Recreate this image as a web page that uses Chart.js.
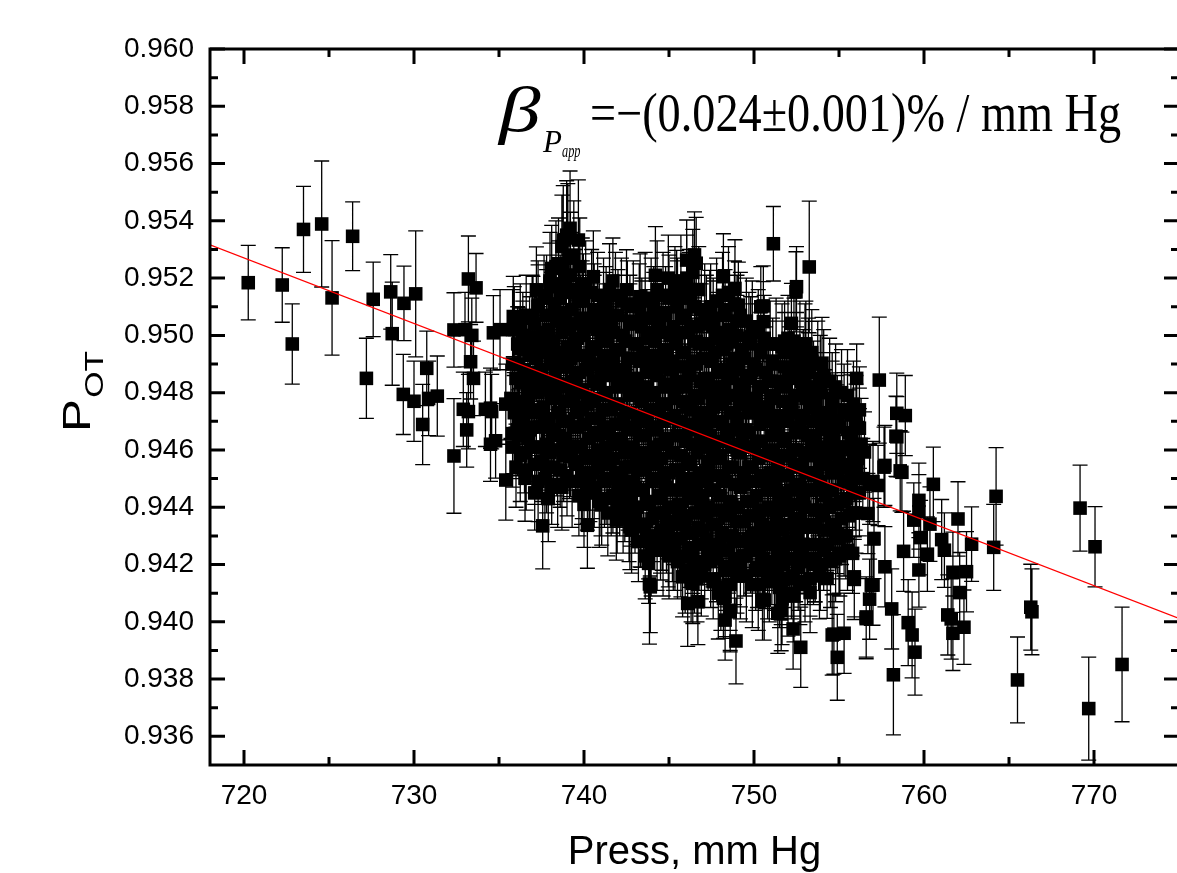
<!DOCTYPE html>
<html>
<head>
<meta charset="utf-8">
<title>P_OT vs pressure</title>
<script src="https://cdn.jsdelivr.net/npm/chart.js@4.4.0/dist/chart.umd.min.js"></script>
<style>
  html, body { margin: 0; padding: 0; background: #fff; overflow: hidden; }
  canvas { display: block; }
</style>
</head>
<body>
<canvas id="myChart" width="1185" height="873"></canvas>

<script>
// axis ticks
var xTicks = [720, 730, 740, 750, 760, 770];
var xMinor = [725, 735, 745, 755, 765];
var yTicks = [0.936, 0.938, 0.940, 0.942, 0.944, 0.946, 0.948, 0.950, 0.952, 0.954, 0.956, 0.958, 0.960];
var yMinor = [0.937, 0.939, 0.941, 0.943, 0.945, 0.947, 0.949, 0.951, 0.953, 0.955, 0.957, 0.959];

// linear fit (red line)
var fitPress = [718, 775];
var fitPOT = [0.95316, 0.94012];

// isolated points, left and right of the cloud
var sparsePress = [
  720.25, 722.25, 722.84, 723.50, 724.57, 725.18, 726.39, 727.60, 727.20, 728.63,
  728.72, 729.41, 730.10, 729.37, 730.00, 730.51, 730.75, 730.86, 731.37, 732.35,
  732.35, 733.20, 733.65, 733.00, 733.40, 733.33, 733.50, 732.90, 733.20, 733.10,
  734.20, 734.57, 734.50, 734.80, 734.67,
  764.24, 764.10, 769.18, 770.06, 766.28, 766.35, 765.50, 769.69, 771.65, 762.00,
  762.80, 762.50, 761.70, 762.10, 762.35, 761.70, 761.40, 761.60, 761.04, 761.20,
  760.55, 760.35, 760.20, 759.70, 759.70, 759.40, 759.80, 759.70, 758.80, 759.47,
  759.30, 759.07, 758.10, 758.20, 758.35, 758.60, 757.65, 757.30, 757.70, 756.90,
  756.80, 756.60, 757.06, 755.90, 755.80, 755.30, 754.60, 754.90, 754.30, 753.30,
  752.75, 752.30, 751.60, 751.60, 750.60, 755.45, 756.04, 756.20, 755.60, 756.70,
  754.90, 753.90, 751.70, 752.70, 753.60, 754.90, 751.14, 753.25, 752.50, 752.47,
  750.55, 750.55, 752.20, 751.80, 753.00, 752.20, 754.00, 753.40, 752.90, 756.04,
  757.37, 753.60, 752.90, 753.70, 754.50, 755.70, 756.20, 754.30, 754.90, 758.40,
  758.90, 758.40, 755.80, 756.50, 753.60, 757.70, 758.70, 756.00, 757.00
];
var sparsePOT = [
  0.95184, 0.95176, 0.94970, 0.95370, 0.95389, 0.95131, 0.95346, 0.95126, 0.94850, 0.95152,
  0.95006, 0.95112, 0.95145, 0.94794, 0.94770, 0.94689, 0.94885, 0.94780, 0.94788, 0.94579,
  0.95019, 0.95197, 0.95166, 0.95020, 0.95000, 0.94908, 0.94850, 0.94742, 0.94734, 0.94670,
  0.94742, 0.94734, 0.94620, 0.94632, 0.95009,
  0.94438, 0.94260, 0.94397, 0.94262, 0.94051, 0.94035, 0.93797, 0.93697, 0.93851, 0.94359,
  0.94271, 0.94175, 0.94173, 0.94102, 0.93981, 0.93960, 0.94024, 0.94010, 0.94287, 0.94250,
  0.94480, 0.94341, 0.94236, 0.94424, 0.94384, 0.94355, 0.94294, 0.94181, 0.94246, 0.93894,
  0.93954, 0.93997, 0.94045, 0.93815, 0.94648, 0.94527, 0.94540, 0.94476, 0.94192, 0.94128,
  0.94079, 0.94017, 0.94291, 0.94157, 0.94239, 0.93960, 0.93954, 0.93876, 0.94152, 0.94102,
  0.93911, 0.93975, 0.94039, 0.94146, 0.94076, 0.94430, 0.94537, 0.94604, 0.94609, 0.94378,
  0.94537, 0.94549, 0.94267, 0.94238, 0.94209, 0.94308, 0.95320, 0.95239, 0.95170, 0.95152,
  0.95103, 0.95048, 0.95042, 0.94980, 0.94970, 0.94940, 0.94903, 0.94909, 0.94880, 0.94850,
  0.94844, 0.94800, 0.94800, 0.94730, 0.94729, 0.94722, 0.94676, 0.94672, 0.94687, 0.94728,
  0.94720, 0.94646, 0.94604, 0.94593, 0.94604, 0.94546, 0.94522, 0.94534, 0.94490
];
var sparseErr = [
  0.0013, 0.0013, 0.0014, 0.0015, 0.0022, 0.0020, 0.0012, 0.0013, 0.0014, 0.0013,
  0.0018, 0.0013, 0.0022, 0.0014, 0.0014, 0.0014, 0.0013, 0.0013, 0.0014, 0.0020,
  0.0013, 0.0015, 0.0012, 0.0013, 0.0013, 0.0013, 0.0013, 0.0013, 0.0013, 0.0013,
  0.0013, 0.0013, 0.0013, 0.0013, 0.0013,
  0.0017, 0.0015, 0.0015, 0.0014, 0.0015, 0.0015, 0.0015, 0.0018, 0.0020, 0.0013,
  0.0013, 0.0014, 0.0014, 0.0014, 0.0013, 0.0013, 0.0014, 0.0014, 0.0014, 0.0013,
  0.0013, 0.0013, 0.0013, 0.0013, 0.0013, 0.0013, 0.0013, 0.0013, 0.0014, 0.0015,
  0.0015, 0.0015, 0.0014, 0.0021, 0.0014, 0.0014, 0.0014, 0.0014, 0.0014, 0.0014,
  0.0014, 0.0014, 0.0014, 0.0014, 0.0014, 0.0014, 0.0014, 0.0015, 0.0014, 0.0014,
  0.0014, 0.0014, 0.0014, 0.0014, 0.0014, 0.0014, 0.0014, 0.0014, 0.0014, 0.0014,
  0.0014, 0.0014, 0.0014, 0.0014, 0.0014, 0.0014, 0.0013, 0.0023, 0.0014, 0.0014,
  0.0014, 0.0014, 0.0014, 0.0014, 0.0014, 0.0014, 0.0016, 0.0014, 0.0014, 0.0012,
  0.0022, 0.0014, 0.0014, 0.0014, 0.0014, 0.0014, 0.0014, 0.0014, 0.0014, 0.0014,
  0.0014, 0.0014, 0.0014, 0.0014, 0.0014, 0.0014, 0.0014, 0.0014, 0.0014
];

// points on the upper and lower rim of the cloud
var edgePress = [
  737.57, 737.80, 740.20, 740.20, 741.04, 741.90, 742.70, 743.80, 743.85, 743.90,
  745.80, 746.40, 746.10, 746.70, 745.70, 744.96, 748.20, 748.30, 748.60, 748.94,
  748.40, 749.20, 750.50, 750.55, 751.40, 751.40, 746.40, 747.60, 749.90, 735.80,
  735.40, 736.53, 736.20, 736.80, 735.40, 734.50,
  735.06, 735.84, 737.20, 737.30, 738.10, 738.00, 738.98, 739.18, 739.67, 738.78,
  738.90, 740.55, 741.70, 744.20, 744.96, 746.04, 746.50, 746.60, 748.20, 748.88,
  749.08, 750.40, 749.80, 747.40, 745.45, 743.30, 742.50, 739.96, 735.80, 736.80,
  737.00, 737.40, 737.80, 739.40, 747.20,
  736.20, 736.80, 736.40, 736.10, 739.20, 740.35, 739.60, 737.40, 738.40, 739.40,
  741.30, 740.90, 741.90, 742.10, 742.70, 744.85, 745.60, 748.30, 748.60, 748.50,
  750.65, 751.60, 754.70, 755.90, 756.60, 757.00, 752.70, 755.00, 747.20, 745.25,
  744.50, 743.30, 756.80, 754.70
];
var edgePOT = [
  0.94335, 0.94600, 0.94337, 0.94484, 0.94408, 0.94355, 0.94332, 0.94204, 0.94132, 0.94122,
  0.94157, 0.94134, 0.94064, 0.94070, 0.94227, 0.94262, 0.94082, 0.94006, 0.94035, 0.93933,
  0.94192, 0.94192, 0.94076, 0.94192, 0.94274, 0.94030, 0.94239, 0.94262, 0.94262, 0.94657,
  0.94495, 0.94501, 0.94690, 0.94670, 0.94760, 0.94746,
  0.95020, 0.95066, 0.95159, 0.95106, 0.95234, 0.95182, 0.95350, 0.95374, 0.95333, 0.95333,
  0.95205, 0.95205, 0.95190, 0.95210, 0.95200, 0.95263, 0.95281, 0.95252, 0.95205, 0.95164,
  0.95106, 0.95100, 0.94995, 0.95077, 0.95147, 0.95135, 0.95159, 0.95135, 0.95020, 0.94995,
  0.95066, 0.94960, 0.95010, 0.94950, 0.95070,
  0.94955, 0.94932, 0.94751, 0.94670, 0.94577, 0.94490, 0.94612, 0.94832, 0.94832, 0.94774,
  0.94658, 0.94600, 0.94519, 0.94450, 0.94414, 0.94310, 0.94368, 0.94088, 0.94040, 0.94192,
  0.94186, 0.94152, 0.93957, 0.94148, 0.94011, 0.94128, 0.94240, 0.94240, 0.94286, 0.94250,
  0.94286, 0.94332, 0.94480, 0.94609
];
var edgeErr = [
  0.0015, 0.0014, 0.0015, 0.0014, 0.0014, 0.0014, 0.0015, 0.0014, 0.0021, 0.0016,
  0.0014, 0.0014, 0.0015, 0.0015, 0.0014, 0.0014, 0.0014, 0.0014, 0.0014, 0.0015,
  0.0014, 0.0014, 0.0014, 0.0014, 0.0014, 0.0014, 0.0014, 0.0014, 0.0014, 0.0014,
  0.0014, 0.0015, 0.0014, 0.0014, 0.0014, 0.0014,
  0.0014, 0.0014, 0.0015, 0.0014, 0.0015, 0.0014, 0.0019, 0.0020, 0.0021, 0.0019,
  0.0015, 0.0016, 0.0015, 0.0017, 0.0015, 0.0014, 0.0015, 0.0016, 0.0015, 0.0017,
  0.0015, 0.0014, 0.0014, 0.0015, 0.0015, 0.0015, 0.0014, 0.0015, 0.0014, 0.0014,
  0.0014, 0.0014, 0.0014, 0.0014, 0.0014,
  0.0014, 0.0014, 0.0014, 0.0014, 0.0014, 0.0014, 0.0014, 0.0014, 0.0014, 0.0014,
  0.0014, 0.0014, 0.0014, 0.0015, 0.0015, 0.0014, 0.0014, 0.0014, 0.0014, 0.0014,
  0.0014, 0.0014, 0.0014, 0.0014, 0.0014, 0.0014, 0.0014, 0.0014, 0.0014, 0.0014,
  0.0014, 0.0014, 0.0014, 0.0014
];

// dense core of the cloud, one line per narrow pressure strip
var corePress = [
  735.9, 736.1, 735.8, 736.0, 735.7, 735.9, 736.1, 735.8, 736.0,
  736.6, 736.4, 736.7, 736.5, 736.8, 736.6, 736.4, 736.7, 736.5, 736.6,
  737.3, 737.1, 737.4, 737.2, 737.5, 737.3, 737.1, 737.4, 737.2, 737.5, 737.3, 737.1,
  738.0, 737.8, 738.1, 737.9, 738.2, 738.0, 737.8, 738.1, 737.9, 738.2, 738.0, 737.8, 738.1, 737.9,
  738.7, 738.5, 738.8, 738.6, 738.9, 738.7, 738.5, 738.8, 738.6, 738.9, 738.7, 738.5, 738.8, 738.6, 738.7,
  739.4, 739.2, 739.5, 739.3, 739.6, 739.4, 739.2, 739.5, 739.3, 739.6, 739.4, 739.2, 739.5, 739.3,
  740.1, 739.9, 740.2, 740.0, 740.3, 740.1, 739.9, 740.2, 740.0, 740.3, 740.1, 739.9, 740.2, 740.0,
  740.8, 740.6, 740.9, 740.7, 741.0, 740.8, 740.6, 740.9, 740.7, 741.0, 740.8, 740.6, 740.9,
  741.5, 741.3, 741.6, 741.4, 741.7, 741.5, 741.3, 741.6, 741.4, 741.7, 741.5, 741.3, 741.6, 741.4,
  742.2, 742.0, 742.3, 742.1, 742.4, 742.2, 742.0, 742.3, 742.1, 742.4, 742.2, 742.0, 742.3,
  742.9, 742.7, 743.0, 742.8, 743.1, 742.9, 742.7, 743.0, 742.8, 743.1, 742.9, 742.7, 743.0, 742.8,
  743.6, 743.4, 743.7, 743.5, 743.8, 743.6, 743.4, 743.7, 743.5, 743.8, 743.6, 743.4, 743.7, 743.5, 743.8, 743.6,
  744.3, 744.1, 744.4, 744.2, 744.5, 744.3, 744.1, 744.4, 744.2, 744.5, 744.3, 744.1, 744.4, 744.2, 744.5, 744.3,
  745.0, 744.8, 745.1, 744.9, 745.2, 745.0, 744.8, 745.1, 744.9, 745.2, 745.0, 744.8, 745.1, 744.9, 745.2, 745.0,
  745.7, 745.5, 745.8, 745.6, 745.9, 745.7, 745.5, 745.8, 745.6, 745.9, 745.7, 745.5, 745.8, 745.6, 745.9, 745.7, 745.5,
  746.4, 746.2, 746.5, 746.3, 746.6, 746.4, 746.2, 746.5, 746.3, 746.6, 746.4, 746.2, 746.5, 746.3, 746.6, 746.4, 746.2, 746.5, 746.3,
  747.1, 746.9, 747.2, 747.0, 747.3, 747.1, 746.9, 747.2, 747.0, 747.3, 747.1, 746.9, 747.2, 747.0, 747.3, 747.1, 746.9,
  747.8, 747.6, 747.9, 747.7, 748.0, 747.8, 747.6, 747.9, 747.7, 748.0, 747.8, 747.6, 747.9, 747.7, 748.0, 747.8, 747.6, 747.9,
  748.5, 748.3, 748.6, 748.4, 748.7, 748.5, 748.3, 748.6, 748.4, 748.7, 748.5, 748.3, 748.6, 748.4, 748.7, 748.5, 748.3, 748.6,
  749.2, 749.0, 749.3, 749.1, 749.4, 749.2, 749.0, 749.3, 749.1, 749.4, 749.2, 749.0, 749.3, 749.1, 749.4, 749.2,
  749.9, 749.7, 750.0, 749.8, 750.1, 749.9, 749.7, 750.0, 749.8, 750.1, 749.9, 749.7, 750.0, 749.8, 750.1, 749.9,
  750.6, 750.4, 750.7, 750.5, 750.8, 750.6, 750.4, 750.7, 750.5, 750.8, 750.6, 750.4, 750.7, 750.5, 750.8,
  751.3, 751.1, 751.4, 751.2, 751.5, 751.3, 751.1, 751.4, 751.2, 751.5, 751.3, 751.1, 751.4, 751.2, 751.5,
  752.0, 751.8, 752.1, 751.9, 752.2, 752.0, 751.8, 752.1, 751.9, 752.2, 752.0, 751.8, 752.1, 751.9, 752.2, 752.0,
  752.7, 752.5, 752.8, 752.6, 752.9, 752.7, 752.5, 752.8, 752.6, 752.9, 752.7, 752.5, 752.8, 752.6, 752.7,
  753.4, 753.2, 753.5, 753.3, 753.6, 753.4, 753.2, 753.5, 753.3, 753.6, 753.4, 753.2, 753.5, 753.3,
  754.1, 753.9, 754.2, 754.0, 754.3, 754.1, 753.9, 754.2, 754.0, 754.3, 754.1, 753.9,
  754.8, 754.6, 754.9, 754.7, 755.0, 754.8, 754.6, 754.9, 754.7, 755.0, 754.8,
  755.5, 755.3, 755.6, 755.4, 755.7, 755.5, 755.3, 755.6, 755.4, 755.5,
  756.2, 756.0, 756.3, 756.1, 756.4, 756.2, 756.0
];
var corePOT = [
  0.9502, 0.9497, 0.9490, 0.9485, 0.9478, 0.9473, 0.9466, 0.9461, 0.9454,
  0.9507, 0.9500, 0.9495, 0.9488, 0.9483, 0.9476, 0.9471, 0.9464, 0.9459, 0.9453,
  0.9510, 0.9504, 0.9497, 0.9492, 0.9485, 0.9480, 0.9473, 0.9468, 0.9461, 0.9456, 0.9449, 0.9445,
  0.9519, 0.9514, 0.9507, 0.9502, 0.9495, 0.9490, 0.9483, 0.9478, 0.9471, 0.9466, 0.9459, 0.9454, 0.9447, 0.9443,
  0.9531, 0.9525, 0.9518, 0.9513, 0.9506, 0.9501, 0.9494, 0.9489, 0.9482, 0.9477, 0.9470, 0.9465, 0.9458, 0.9453, 0.9447,
  0.9528, 0.9521, 0.9516, 0.9509, 0.9504, 0.9497, 0.9492, 0.9485, 0.9480, 0.9473, 0.9468, 0.9461, 0.9456, 0.9449,
  0.9517, 0.9512, 0.9505, 0.9500, 0.9493, 0.9488, 0.9481, 0.9476, 0.9469, 0.9464, 0.9457, 0.9452, 0.9445, 0.9441,
  0.9514, 0.9507, 0.9502, 0.9495, 0.9490, 0.9483, 0.9478, 0.9471, 0.9466, 0.9459, 0.9454, 0.9447, 0.9442,
  0.9516, 0.9510, 0.9503, 0.9498, 0.9491, 0.9486, 0.9479, 0.9474, 0.9467, 0.9462, 0.9455, 0.9450, 0.9443, 0.9438,
  0.9512, 0.9507, 0.9500, 0.9495, 0.9488, 0.9483, 0.9476, 0.9471, 0.9464, 0.9459, 0.9452, 0.9447, 0.9440,
  0.9510, 0.9504, 0.9497, 0.9492, 0.9485, 0.9480, 0.9473, 0.9468, 0.9461, 0.9456, 0.9449, 0.9444, 0.9437, 0.9432,
  0.9513, 0.9506, 0.9501, 0.9494, 0.9489, 0.9482, 0.9477, 0.9470, 0.9465, 0.9458, 0.9453, 0.9446, 0.9441, 0.9434, 0.9429, 0.9423,
  0.9516, 0.9510, 0.9503, 0.9498, 0.9491, 0.9486, 0.9479, 0.9474, 0.9467, 0.9462, 0.9455, 0.9450, 0.9443, 0.9438, 0.9431, 0.9426,
  0.9513, 0.9507, 0.9500, 0.9495, 0.9488, 0.9483, 0.9476, 0.9471, 0.9464, 0.9459, 0.9452, 0.9447, 0.9440, 0.9435, 0.9428, 0.9423,
  0.9519, 0.9513, 0.9506, 0.9501, 0.9494, 0.9489, 0.9482, 0.9477, 0.9470, 0.9465, 0.9458, 0.9453, 0.9446, 0.9441, 0.9434, 0.9429, 0.9422,
  0.9522, 0.9516, 0.9510, 0.9503, 0.9498, 0.9491, 0.9486, 0.9479, 0.9474, 0.9467, 0.9462, 0.9455, 0.9450, 0.9443, 0.9438, 0.9431, 0.9426, 0.9419, 0.9414,
  0.9509, 0.9504, 0.9497, 0.9492, 0.9485, 0.9480, 0.9473, 0.9468, 0.9461, 0.9456, 0.9449, 0.9444, 0.9437, 0.9432, 0.9425, 0.9420, 0.9416,
  0.9512, 0.9506, 0.9499, 0.9494, 0.9487, 0.9482, 0.9475, 0.9470, 0.9463, 0.9458, 0.9451, 0.9446, 0.9439, 0.9434, 0.9427, 0.9422, 0.9415, 0.9410,
  0.9515, 0.9509, 0.9502, 0.9497, 0.9490, 0.9485, 0.9478, 0.9473, 0.9466, 0.9461, 0.9454, 0.9449, 0.9442, 0.9437, 0.9430, 0.9425, 0.9418, 0.9413,
  0.9507, 0.9500, 0.9495, 0.9488, 0.9483, 0.9476, 0.9471, 0.9464, 0.9459, 0.9452, 0.9447, 0.9440, 0.9435, 0.9428, 0.9423, 0.9416,
  0.9503, 0.9497, 0.9490, 0.9485, 0.9478, 0.9473, 0.9466, 0.9461, 0.9454, 0.9449, 0.9442, 0.9437, 0.9430, 0.9425, 0.9418, 0.9413,
  0.9499, 0.9494, 0.9487, 0.9482, 0.9475, 0.9470, 0.9463, 0.9458, 0.9451, 0.9446, 0.9439, 0.9434, 0.9427, 0.9422, 0.9415,
  0.9497, 0.9491, 0.9484, 0.9479, 0.9472, 0.9467, 0.9460, 0.9455, 0.9448, 0.9443, 0.9436, 0.9431, 0.9424, 0.9419, 0.9412,
  0.9499, 0.9494, 0.9487, 0.9482, 0.9475, 0.9470, 0.9463, 0.9458, 0.9451, 0.9446, 0.9439, 0.9434, 0.9427, 0.9422, 0.9415, 0.9410,
  0.9496, 0.9491, 0.9484, 0.9479, 0.9472, 0.9467, 0.9460, 0.9455, 0.9448, 0.9443, 0.9436, 0.9431, 0.9424, 0.9419, 0.9413,
  0.9494, 0.9487, 0.9482, 0.9475, 0.9470, 0.9463, 0.9458, 0.9451, 0.9446, 0.9439, 0.9434, 0.9427, 0.9422, 0.9415,
  0.9486, 0.9480, 0.9473, 0.9468, 0.9461, 0.9456, 0.9449, 0.9444, 0.9437, 0.9432, 0.9425, 0.9420,
  0.9482, 0.9477, 0.9470, 0.9465, 0.9458, 0.9453, 0.9446, 0.9441, 0.9434, 0.9429, 0.9422,
  0.9479, 0.9473, 0.9466, 0.9461, 0.9454, 0.9449, 0.9442, 0.9437, 0.9430, 0.9425,
  0.9474, 0.9469, 0.9462, 0.9457, 0.9450, 0.9445, 0.9438
];
var coreErr = [
  0.0015, 0.0013, 0.0014, 0.0016, 0.0014, 0.0013, 0.0015, 0.0014, 0.0014,
  0.0014, 0.0015, 0.0013, 0.0014, 0.0016, 0.0014, 0.0013, 0.0015, 0.0014, 0.0014,
  0.0016, 0.0014, 0.0013, 0.0015, 0.0014, 0.0014, 0.0016, 0.0013, 0.0014, 0.0015, 0.0014, 0.0013,
  0.0017, 0.0014, 0.0015, 0.0013, 0.0014, 0.0016, 0.0014, 0.0013, 0.0015, 0.0014, 0.0014, 0.0016, 0.0013, 0.0015,
  0.0018, 0.0016, 0.0014, 0.0015, 0.0013, 0.0014, 0.0016, 0.0014, 0.0013, 0.0015, 0.0014, 0.0014, 0.0016, 0.0013, 0.0015,
  0.0019, 0.0015, 0.0014, 0.0016, 0.0013, 0.0014, 0.0015, 0.0014, 0.0016, 0.0013, 0.0014, 0.0015, 0.0014, 0.0016,
  0.0016, 0.0014, 0.0015, 0.0013, 0.0014, 0.0016, 0.0014, 0.0013, 0.0015, 0.0014, 0.0014, 0.0016, 0.0013, 0.0015,
  0.0015, 0.0014, 0.0016, 0.0013, 0.0014, 0.0015, 0.0014, 0.0016, 0.0013, 0.0014, 0.0015, 0.0014, 0.0016,
  0.0016, 0.0014, 0.0015, 0.0013, 0.0014, 0.0016, 0.0014, 0.0013, 0.0015, 0.0014, 0.0014, 0.0016, 0.0013, 0.0015,
  0.0015, 0.0014, 0.0016, 0.0013, 0.0014, 0.0015, 0.0014, 0.0016, 0.0013, 0.0014, 0.0015, 0.0014, 0.0016,
  0.0016, 0.0014, 0.0015, 0.0013, 0.0014, 0.0016, 0.0014, 0.0013, 0.0015, 0.0014, 0.0014, 0.0016, 0.0013, 0.0015,
  0.0016, 0.0014, 0.0015, 0.0013, 0.0014, 0.0016, 0.0014, 0.0013, 0.0015, 0.0014, 0.0014, 0.0016, 0.0013, 0.0015, 0.0014, 0.0015,
  0.0017, 0.0014, 0.0015, 0.0013, 0.0014, 0.0016, 0.0014, 0.0013, 0.0015, 0.0014, 0.0014, 0.0016, 0.0013, 0.0015, 0.0014, 0.0015,
  0.0015, 0.0014, 0.0016, 0.0013, 0.0014, 0.0015, 0.0014, 0.0016, 0.0013, 0.0014, 0.0015, 0.0014, 0.0016, 0.0013, 0.0014, 0.0015,
  0.0016, 0.0014, 0.0015, 0.0013, 0.0014, 0.0016, 0.0014, 0.0013, 0.0015, 0.0014, 0.0014, 0.0016, 0.0013, 0.0015, 0.0014, 0.0015, 0.0014,
  0.0015, 0.0014, 0.0016, 0.0013, 0.0014, 0.0015, 0.0014, 0.0016, 0.0013, 0.0014, 0.0015, 0.0014, 0.0016, 0.0013, 0.0014, 0.0015, 0.0014, 0.0016, 0.0014,
  0.0016, 0.0014, 0.0015, 0.0013, 0.0014, 0.0016, 0.0014, 0.0013, 0.0015, 0.0014, 0.0014, 0.0016, 0.0013, 0.0015, 0.0014, 0.0015, 0.0014,
  0.0015, 0.0014, 0.0016, 0.0013, 0.0014, 0.0015, 0.0014, 0.0016, 0.0013, 0.0014, 0.0015, 0.0014, 0.0016, 0.0013, 0.0014, 0.0015, 0.0014, 0.0016,
  0.0016, 0.0014, 0.0015, 0.0013, 0.0014, 0.0016, 0.0014, 0.0013, 0.0015, 0.0014, 0.0014, 0.0016, 0.0013, 0.0015, 0.0014, 0.0015, 0.0014, 0.0016,
  0.0015, 0.0014, 0.0016, 0.0013, 0.0014, 0.0015, 0.0014, 0.0016, 0.0013, 0.0014, 0.0015, 0.0014, 0.0016, 0.0013, 0.0014, 0.0015,
  0.0016, 0.0014, 0.0015, 0.0013, 0.0014, 0.0016, 0.0014, 0.0013, 0.0015, 0.0014, 0.0014, 0.0016, 0.0013, 0.0015, 0.0014, 0.0015,
  0.0015, 0.0014, 0.0016, 0.0013, 0.0014, 0.0015, 0.0014, 0.0016, 0.0013, 0.0014, 0.0015, 0.0014, 0.0016, 0.0013, 0.0014,
  0.0016, 0.0014, 0.0015, 0.0013, 0.0014, 0.0016, 0.0014, 0.0013, 0.0015, 0.0014, 0.0014, 0.0016, 0.0013, 0.0015, 0.0014,
  0.0015, 0.0014, 0.0016, 0.0013, 0.0014, 0.0015, 0.0014, 0.0016, 0.0013, 0.0014, 0.0015, 0.0014, 0.0016, 0.0013, 0.0014, 0.0015,
  0.0016, 0.0014, 0.0015, 0.0013, 0.0014, 0.0016, 0.0014, 0.0013, 0.0015, 0.0014, 0.0014, 0.0016, 0.0013, 0.0015, 0.0014,
  0.0015, 0.0014, 0.0016, 0.0013, 0.0014, 0.0015, 0.0014, 0.0016, 0.0013, 0.0014, 0.0015, 0.0014, 0.0016, 0.0013,
  0.0016, 0.0014, 0.0015, 0.0013, 0.0014, 0.0016, 0.0014, 0.0013, 0.0015, 0.0014, 0.0014, 0.0016,
  0.0015, 0.0014, 0.0016, 0.0013, 0.0014, 0.0015, 0.0014, 0.0016, 0.0013, 0.0014, 0.0015,
  0.0016, 0.0014, 0.0015, 0.0013, 0.0014, 0.0016, 0.0014, 0.0013, 0.0015, 0.0014,
  0.0015, 0.0014, 0.0016, 0.0013, 0.0014, 0.0015, 0.0014
];

// second, interleaved layer of the core (strips between the ones above)
var fillPress = [
  736.25, 736.40, 736.15, 736.30, 736.10, 736.35, 736.20, 736.25,
  736.95, 737.10, 736.85, 737.00, 736.80, 737.05, 736.90, 736.95, 737.10,
  737.65, 737.80, 737.55, 737.70, 737.50, 737.75, 737.60, 737.65, 737.80, 737.55, 737.70,
  738.35, 738.50, 738.25, 738.40, 738.20, 738.45, 738.30, 738.35, 738.50, 738.25, 738.40, 738.20, 738.45,
  739.05, 739.20, 738.95, 739.10, 738.90, 739.15, 739.00, 739.05, 739.20, 738.95, 739.10, 738.90, 739.15, 739.00,
  739.75, 739.90, 739.65, 739.80, 739.60, 739.85, 739.70, 739.75, 739.90, 739.65, 739.80, 739.60, 739.85, 739.70,
  740.45, 740.60, 740.35, 740.50, 740.30, 740.55, 740.40, 740.45, 740.60, 740.35, 740.50, 740.30,
  741.15, 741.30, 741.05, 741.20, 741.00, 741.25, 741.10, 741.15, 741.30, 741.05, 741.20, 741.00,
  741.85, 742.00, 741.75, 741.90, 741.70, 741.95, 741.80, 741.85, 742.00, 741.75, 741.90, 741.70, 741.95,
  742.55, 742.70, 742.45, 742.60, 742.40, 742.65, 742.50, 742.55, 742.70, 742.45, 742.60, 742.40, 742.65,
  743.25, 743.40, 743.15, 743.30, 743.10, 743.35, 743.20, 743.25, 743.40, 743.15, 743.30, 743.10, 743.35, 743.20,
  743.95, 744.10, 743.85, 744.00, 743.80, 744.05, 743.90, 743.95, 744.10, 743.85, 744.00, 743.80, 744.05, 743.90, 743.95,
  744.65, 744.80, 744.55, 744.70, 744.50, 744.75, 744.60, 744.65, 744.80, 744.55, 744.70, 744.50, 744.75, 744.60, 744.65,
  745.35, 745.50, 745.25, 745.40, 745.20, 745.45, 745.30, 745.35, 745.50, 745.25, 745.40, 745.20, 745.45, 745.30, 745.35, 745.50,
  746.05, 746.20, 745.95, 746.10, 745.90, 746.15, 746.00, 746.05, 746.20, 745.95, 746.10, 745.90, 746.15, 746.00, 746.05, 746.20, 745.95,
  746.75, 746.90, 746.65, 746.80, 746.60, 746.85, 746.70, 746.75, 746.90, 746.65, 746.80, 746.60, 746.85, 746.70, 746.75, 746.90, 746.65,
  747.45, 747.60, 747.35, 747.50, 747.30, 747.55, 747.40, 747.45, 747.60, 747.35, 747.50, 747.30, 747.55, 747.40, 747.45, 747.60,
  748.15, 748.30, 748.05, 748.20, 748.00, 748.25, 748.10, 748.15, 748.30, 748.05, 748.20, 748.00, 748.25, 748.10, 748.15, 748.30, 748.05,
  748.85, 749.00, 748.75, 748.90, 748.70, 748.95, 748.80, 748.85, 749.00, 748.75, 748.90, 748.70, 748.95, 748.80, 748.85, 749.00,
  749.55, 749.70, 749.45, 749.60, 749.40, 749.65, 749.50, 749.55, 749.70, 749.45, 749.60, 749.40, 749.65, 749.50, 749.55,
  750.25, 750.40, 750.15, 750.30, 750.10, 750.35, 750.20, 750.25, 750.40, 750.15, 750.30, 750.10, 750.35, 750.20, 750.25,
  750.95, 751.10, 750.85, 751.00, 750.80, 751.05, 750.90, 750.95, 751.10, 750.85, 751.00, 750.80, 751.05, 750.90,
  751.65, 751.80, 751.55, 751.70, 751.50, 751.75, 751.60, 751.65, 751.80, 751.55, 751.70, 751.50, 751.75, 751.60, 751.65,
  752.35, 752.50, 752.25, 752.40, 752.20, 752.45, 752.30, 752.35, 752.50, 752.25, 752.40, 752.20, 752.45, 752.30, 752.35,
  753.05, 753.20, 752.95, 753.10, 752.90, 753.15, 753.00, 753.05, 753.20, 752.95, 753.10, 752.90, 753.15, 753.00,
  753.75, 753.90, 753.65, 753.80, 753.60, 753.85, 753.70, 753.75, 753.90, 753.65, 753.80, 753.60, 753.85,
  754.45, 754.60, 754.35, 754.50, 754.30, 754.55, 754.40, 754.45, 754.60, 754.35, 754.50,
  755.15, 755.30, 755.05, 755.20, 755.00, 755.25, 755.10, 755.15, 755.30, 755.05,
  755.85, 756.00, 755.75, 755.90, 755.70, 755.95, 755.80
];
var fillPOT = [
  0.9503, 0.9496, 0.9490, 0.9484, 0.9477, 0.9471, 0.9465, 0.9458,
  0.9506, 0.9499, 0.9493, 0.9487, 0.9480, 0.9474, 0.9468, 0.9461, 0.9455,
  0.9513, 0.9507, 0.9500, 0.9494, 0.9488, 0.9481, 0.9475, 0.9469, 0.9462, 0.9456, 0.9450,
  0.9524, 0.9517, 0.9511, 0.9505, 0.9498, 0.9492, 0.9486, 0.9479, 0.9473, 0.9467, 0.9460, 0.9454, 0.9448,
  0.9534, 0.9527, 0.9521, 0.9515, 0.9508, 0.9502, 0.9496, 0.9489, 0.9483, 0.9477, 0.9470, 0.9464, 0.9458, 0.9451,
  0.9524, 0.9518, 0.9512, 0.9506, 0.9499, 0.9493, 0.9487, 0.9480, 0.9474, 0.9468, 0.9461, 0.9455, 0.9449, 0.9444,
  0.9515, 0.9509, 0.9503, 0.9496, 0.9490, 0.9484, 0.9477, 0.9471, 0.9465, 0.9458, 0.9452, 0.9446,
  0.9512, 0.9506, 0.9499, 0.9493, 0.9487, 0.9480, 0.9474, 0.9468, 0.9461, 0.9455, 0.9449, 0.9443,
  0.9514, 0.9507, 0.9501, 0.9495, 0.9488, 0.9482, 0.9476, 0.9469, 0.9463, 0.9457, 0.9450, 0.9444, 0.9439,
  0.9511, 0.9505, 0.9498, 0.9492, 0.9486, 0.9479, 0.9473, 0.9467, 0.9460, 0.9454, 0.9448, 0.9441, 0.9436,
  0.9510, 0.9503, 0.9497, 0.9491, 0.9484, 0.9478, 0.9472, 0.9465, 0.9459, 0.9453, 0.9446, 0.9440, 0.9434, 0.9428,
  0.9512, 0.9506, 0.9499, 0.9493, 0.9487, 0.9480, 0.9474, 0.9468, 0.9461, 0.9455, 0.9449, 0.9442, 0.9436, 0.9430, 0.9425,
  0.9514, 0.9508, 0.9501, 0.9495, 0.9489, 0.9482, 0.9476, 0.9470, 0.9463, 0.9457, 0.9451, 0.9444, 0.9438, 0.9432, 0.9425,
  0.9516, 0.9510, 0.9503, 0.9497, 0.9491, 0.9484, 0.9478, 0.9472, 0.9465, 0.9459, 0.9453, 0.9446, 0.9440, 0.9434, 0.9427, 0.9421,
  0.9520, 0.9513, 0.9507, 0.9501, 0.9494, 0.9488, 0.9482, 0.9475, 0.9469, 0.9463, 0.9456, 0.9450, 0.9444, 0.9437, 0.9431, 0.9425, 0.9418,
  0.9516, 0.9509, 0.9503, 0.9497, 0.9490, 0.9484, 0.9478, 0.9471, 0.9465, 0.9459, 0.9452, 0.9446, 0.9440, 0.9433, 0.9427, 0.9421, 0.9415,
  0.9510, 0.9503, 0.9497, 0.9491, 0.9484, 0.9478, 0.9472, 0.9465, 0.9459, 0.9453, 0.9446, 0.9440, 0.9434, 0.9427, 0.9421, 0.9414,
  0.9514, 0.9507, 0.9501, 0.9495, 0.9488, 0.9482, 0.9476, 0.9469, 0.9463, 0.9457, 0.9450, 0.9444, 0.9438, 0.9431, 0.9425, 0.9419, 0.9412,
  0.9511, 0.9505, 0.9498, 0.9492, 0.9486, 0.9479, 0.9473, 0.9467, 0.9460, 0.9454, 0.9448, 0.9441, 0.9435, 0.9429, 0.9422, 0.9416,
  0.9505, 0.9499, 0.9492, 0.9486, 0.9480, 0.9473, 0.9467, 0.9461, 0.9454, 0.9448, 0.9442, 0.9435, 0.9429, 0.9423, 0.9416,
  0.9501, 0.9495, 0.9488, 0.9482, 0.9476, 0.9469, 0.9463, 0.9457, 0.9450, 0.9444, 0.9438, 0.9431, 0.9425, 0.9419, 0.9413,
  0.9497, 0.9490, 0.9484, 0.9478, 0.9471, 0.9465, 0.9459, 0.9452, 0.9446, 0.9440, 0.9433, 0.9427, 0.9421, 0.9414,
  0.9496, 0.9489, 0.9483, 0.9477, 0.9470, 0.9464, 0.9458, 0.9451, 0.9445, 0.9439, 0.9432, 0.9426, 0.9420, 0.9413, 0.9408,
  0.9498, 0.9492, 0.9485, 0.9479, 0.9473, 0.9466, 0.9460, 0.9454, 0.9447, 0.9441, 0.9435, 0.9428, 0.9422, 0.9416, 0.9409,
  0.9497, 0.9490, 0.9484, 0.9478, 0.9471, 0.9465, 0.9459, 0.9452, 0.9446, 0.9440, 0.9433, 0.9427, 0.9421, 0.9414,
  0.9490, 0.9484, 0.9477, 0.9471, 0.9465, 0.9458, 0.9452, 0.9446, 0.9439, 0.9433, 0.9427, 0.9420, 0.9416,
  0.9484, 0.9478, 0.9471, 0.9465, 0.9459, 0.9452, 0.9446, 0.9440, 0.9433, 0.9427, 0.9421,
  0.9480, 0.9474, 0.9468, 0.9461, 0.9455, 0.9449, 0.9442, 0.9436, 0.9430, 0.9423,
  0.9476, 0.9470, 0.9464, 0.9457, 0.9451, 0.9445, 0.9438
];
var fillErr = [
  0.0015, 0.0016, 0.0013, 0.0015, 0.0014, 0.0013, 0.0015, 0.0016,
  0.0015, 0.0016, 0.0013, 0.0015, 0.0014, 0.0013, 0.0015, 0.0016, 0.0014,
  0.0015, 0.0016, 0.0013, 0.0015, 0.0014, 0.0013, 0.0015, 0.0016, 0.0014, 0.0014, 0.0016,
  0.0016, 0.0016, 0.0013, 0.0015, 0.0014, 0.0013, 0.0015, 0.0016, 0.0014, 0.0014, 0.0016, 0.0013, 0.0015,
  0.0019, 0.0016, 0.0013, 0.0015, 0.0014, 0.0013, 0.0015, 0.0016, 0.0014, 0.0014, 0.0016, 0.0013, 0.0015, 0.0014,
  0.0017, 0.0016, 0.0013, 0.0015, 0.0014, 0.0013, 0.0015, 0.0016, 0.0014, 0.0014, 0.0016, 0.0013, 0.0015, 0.0014,
  0.0015, 0.0016, 0.0013, 0.0015, 0.0014, 0.0013, 0.0015, 0.0016, 0.0014, 0.0014, 0.0016, 0.0013,
  0.0015, 0.0016, 0.0013, 0.0015, 0.0014, 0.0013, 0.0015, 0.0016, 0.0014, 0.0014, 0.0016, 0.0013,
  0.0015, 0.0016, 0.0013, 0.0015, 0.0014, 0.0013, 0.0015, 0.0016, 0.0014, 0.0014, 0.0016, 0.0013, 0.0015,
  0.0015, 0.0016, 0.0013, 0.0015, 0.0014, 0.0013, 0.0015, 0.0016, 0.0014, 0.0014, 0.0016, 0.0013, 0.0015,
  0.0015, 0.0016, 0.0013, 0.0015, 0.0014, 0.0013, 0.0015, 0.0016, 0.0014, 0.0014, 0.0016, 0.0013, 0.0015, 0.0014,
  0.0015, 0.0016, 0.0013, 0.0015, 0.0014, 0.0013, 0.0015, 0.0016, 0.0014, 0.0014, 0.0016, 0.0013, 0.0015, 0.0014, 0.0016,
  0.0015, 0.0016, 0.0013, 0.0015, 0.0014, 0.0013, 0.0015, 0.0016, 0.0014, 0.0014, 0.0016, 0.0013, 0.0015, 0.0014, 0.0016,
  0.0015, 0.0016, 0.0013, 0.0015, 0.0014, 0.0013, 0.0015, 0.0016, 0.0014, 0.0014, 0.0016, 0.0013, 0.0015, 0.0014, 0.0016, 0.0013,
  0.0015, 0.0016, 0.0013, 0.0015, 0.0014, 0.0013, 0.0015, 0.0016, 0.0014, 0.0014, 0.0016, 0.0013, 0.0015, 0.0014, 0.0016, 0.0013, 0.0015,
  0.0015, 0.0016, 0.0013, 0.0015, 0.0014, 0.0013, 0.0015, 0.0016, 0.0014, 0.0014, 0.0016, 0.0013, 0.0015, 0.0014, 0.0016, 0.0013, 0.0015,
  0.0015, 0.0016, 0.0013, 0.0015, 0.0014, 0.0013, 0.0015, 0.0016, 0.0014, 0.0014, 0.0016, 0.0013, 0.0015, 0.0014, 0.0016, 0.0013,
  0.0015, 0.0016, 0.0013, 0.0015, 0.0014, 0.0013, 0.0015, 0.0016, 0.0014, 0.0014, 0.0016, 0.0013, 0.0015, 0.0014, 0.0016, 0.0013, 0.0015,
  0.0015, 0.0016, 0.0013, 0.0015, 0.0014, 0.0013, 0.0015, 0.0016, 0.0014, 0.0014, 0.0016, 0.0013, 0.0015, 0.0014, 0.0016, 0.0013,
  0.0015, 0.0016, 0.0013, 0.0015, 0.0014, 0.0013, 0.0015, 0.0016, 0.0014, 0.0014, 0.0016, 0.0013, 0.0015, 0.0014, 0.0016,
  0.0015, 0.0016, 0.0013, 0.0015, 0.0014, 0.0013, 0.0015, 0.0016, 0.0014, 0.0014, 0.0016, 0.0013, 0.0015, 0.0014, 0.0016,
  0.0015, 0.0016, 0.0013, 0.0015, 0.0014, 0.0013, 0.0015, 0.0016, 0.0014, 0.0014, 0.0016, 0.0013, 0.0015, 0.0014,
  0.0015, 0.0016, 0.0013, 0.0015, 0.0014, 0.0013, 0.0015, 0.0016, 0.0014, 0.0014, 0.0016, 0.0013, 0.0015, 0.0014, 0.0016,
  0.0015, 0.0016, 0.0013, 0.0015, 0.0014, 0.0013, 0.0015, 0.0016, 0.0014, 0.0014, 0.0016, 0.0013, 0.0015, 0.0014, 0.0016,
  0.0015, 0.0016, 0.0013, 0.0015, 0.0014, 0.0013, 0.0015, 0.0016, 0.0014, 0.0014, 0.0016, 0.0013, 0.0015, 0.0014,
  0.0015, 0.0016, 0.0013, 0.0015, 0.0014, 0.0013, 0.0015, 0.0016, 0.0014, 0.0014, 0.0016, 0.0013, 0.0015,
  0.0015, 0.0016, 0.0013, 0.0015, 0.0014, 0.0013, 0.0015, 0.0016, 0.0014, 0.0014, 0.0016,
  0.0015, 0.0016, 0.0013, 0.0015, 0.0014, 0.0013, 0.0015, 0.0016, 0.0014, 0.0014,
  0.0015, 0.0016, 0.0013, 0.0015, 0.0014, 0.0013, 0.0015
];

var FONT = '"Liberation Sans", Arial, Helvetica, sans-serif';
var SERIF = '"Liberation Serif", "Times New Roman", serif';

var press = sparsePress.concat(edgePress, corePress, fillPress);
var pOT = sparsePOT.concat(edgePOT, corePOT, fillPOT);
var pErr = sparseErr.concat(edgeErr, coreErr, fillErr);
if (press.length !== pOT.length || press.length !== pErr.length) {
    console.warn('length mismatch', press.length, pOT.length, pErr.length);
}

var points = press.map(function (x, i) { return { x: x, y: pOT[i] }; });
var fitLine = fitPress.map(function (x, i) { return { x: x, y: fitPOT[i] }; });

// vertical error bars with caps, drawn under the squares
var errorBars = {
    id: 'errorBars',
    beforeDatasetsDraw: function (chart) {
        var xs = chart.scales.x, ys = chart.scales.y, c = chart.ctx, a = chart.chartArea;
        c.save();
        c.beginPath();
        c.rect(a.left, a.top, a.right - a.left, a.bottom - a.top);
        c.clip();
        c.strokeStyle = '#000';
        c.lineWidth = 1.3;
        c.beginPath();
        for (var i = 0; i < press.length; i++) {
            var e = pErr[i] || 0.0014;
            var px = xs.getPixelForValue(press[i]);
            var top = ys.getPixelForValue(pOT[i] + e);
            var bot = ys.getPixelForValue(pOT[i] - e);
            c.moveTo(px, top); c.lineTo(px, bot);
            c.moveTo(px - 7.5, top); c.lineTo(px + 7.5, top);
            c.moveTo(px - 7.5, bot); c.lineTo(px + 7.5, bot);
        }
        c.stroke();
        c.restore();
    }
};

// closed frame with inward ticks on all four sides
var frame = {
    id: 'frame',
    afterDraw: function (chart) {
        var xs = chart.scales.x, ys = chart.scales.y, c = chart.ctx, a = chart.chartArea;
        c.save();
        c.strokeStyle = '#000';
        c.lineWidth = 3;
        c.strokeRect(a.left, a.top, a.right - a.left, a.bottom - a.top);
        c.beginPath();
        function xt(v, len) {
            var p = xs.getPixelForValue(v);
            c.moveTo(p, a.bottom); c.lineTo(p, a.bottom - len);
            c.moveTo(p, a.top); c.lineTo(p, a.top + len);
        }
        function yt(v, len) {
            var p = ys.getPixelForValue(v);
            c.moveTo(a.left, p); c.lineTo(a.left + len, p);
            c.moveTo(a.right, p); c.lineTo(a.right - len, p);
        }
        xTicks.forEach(function (v) { xt(v, 15); });
        xMinor.forEach(function (v) { xt(v, 8); });
        yTicks.forEach(function (v) { yt(v, 15); });
        yMinor.forEach(function (v) { yt(v, 8); });
        c.stroke();
        c.restore();
    }
};

// rotated y title with subscript, and the slope annotation
var texts = {
    id: 'texts',
    afterDraw: function (chart) {
        var c = chart.ctx;
        c.save();
        c.fillStyle = '#000';
        c.textBaseline = 'alphabetic';
        c.translate(90, 432);
        c.rotate(-Math.PI / 2);
        c.scale(1.3, 1);
        c.font = '38px ' + FONT;
        c.fillText('P', 0, 0);
        var pw = c.measureText('P').width;
        c.font = '26px ' + FONT;
        c.fillText('OT', pw + 1, 13);
        c.restore();

        c.save();
        c.fillStyle = '#000';
        c.textBaseline = 'alphabetic';
        c.font = 'italic 64px ' + SERIF;
        c.save();
        c.translate(499, 131);
        c.scale(1.3, 1);
        c.fillText('\u03b2', 0, 0);
        c.restore();
        c.font = 'italic 31px ' + SERIF;
        c.fillText('P', 543, 152);
        c.save();
        c.font = 'italic 19px ' + SERIF;
        c.translate(562, 157);
        c.scale(0.65, 1);
        c.fillText('app', 0, 0);
        c.restore();
        c.font = '54px ' + SERIF;
        var s = '=\u2212(0.024\u00b10.001)% / mm Hg';
        var w = c.measureText(s).width;
        c.translate(590, 131);
        c.scale(531 / w, 1);
        c.fillText(s, 0, 0);
        c.restore();
    }
};

var ctx = document.getElementById('myChart').getContext('2d');
var chart = new Chart(ctx, {
    type: 'scatter',
    data: {
        datasets: [{
            type: 'line',
            data: fitLine,
            borderColor: '#ff0000',
            borderWidth: 1.3,
            pointRadius: 0,
            fill: false,
            tension: 0
        }, {
            data: points,
            pointStyle: 'rect',
            pointRadius: 9.6,
            backgroundColor: '#000',
            borderColor: '#000',
            borderWidth: 0
        }]
    },
    options: {
        responsive: false,
        animation: false,
        events: [],
        // canvas is a bit wider than the window so the right axis falls just outside the picture
        layout: { autoPadding: false, padding: { top: 49, right: 6, left: 0, bottom: 0 } },
        plugins: { legend: { display: false }, tooltip: { enabled: false } },
        scales: {
            x: {
                type: 'linear',
                min: 718,
                max: 775,
                afterBuildTicks: function (s) { s.ticks = xTicks.map(function (v) { return { value: v }; }); },
                afterFit: function (s) { s.height = 108; },
                grid: { display: false, drawTicks: false },
                border: { display: false },
                ticks: {
                    color: '#000',
                    font: { family: FONT, size: 28 },
                    padding: 14,
                    maxRotation: 0,
                    autoSkip: false,
                    callback: function (v) { return String(v); }
                },
                title: {
                    display: true,
                    text: 'Press, mm Hg',
                    color: '#000',
                    font: { family: FONT, size: 40, lineHeight: 1 },
                    padding: { top: 0, bottom: 0 }
                }
            },
            y: {
                min: 0.935,
                max: 0.960,
                afterBuildTicks: function (s) { s.ticks = yTicks.map(function (v) { return { value: v }; }); },
                afterFit: function (s) { s.width = 210; },
                grid: { display: false, drawTicks: false },
                border: { display: false },
                ticks: {
                    color: '#000',
                    font: { family: FONT, size: 28 },
                    padding: 16,
                    autoSkip: false,
                    callback: function (v) { return Number(v).toFixed(3); }
                }
            }
        }
    },
    plugins: [errorBars, frame, texts]
});
</script>
</body>
</html>
